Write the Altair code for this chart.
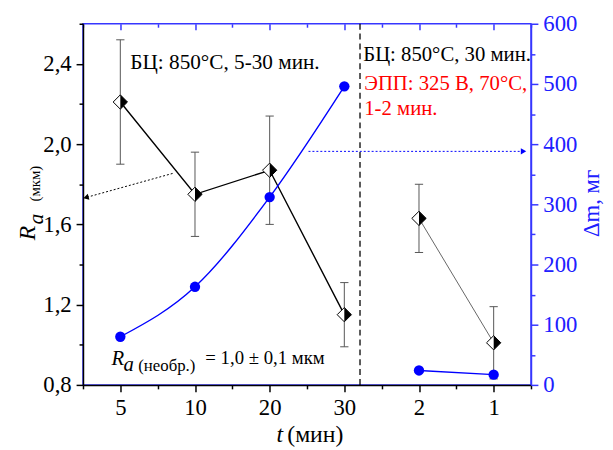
import json
import altair as alt
import pandas as pd

# ---------------- data ----------------
x_labels = ['5', '10', '20', '30', '2', '1']
x_pos = [0, 1, 2, 3, 4, 5]
series_group = ['БЦ', 'БЦ', 'БЦ', 'БЦ', 'ЭПП', 'ЭПП']
ra_values = [2.21, 1.75, 1.87, 1.15, 1.63, 1.01]
ra_errors = [0.31, 0.21, 0.27, 0.16, 0.17, 0.18]
dm_values = [80, 163, 312, 496, 24, 17]

divider_x = [3.21]
arrow_left_x = [0.70, -0.46]
arrow_left_y = [1.854, 1.734]
arrow_right_x = [2.52, 5.40]
arrow_right_y = [388, 388]

FONT = "'Liberation Serif', 'Times New Roman', 'DejaVu Serif', serif"
BLUE = "#0000ff"
AXBLUE = "#3636ff"
LBLUE = "#2020ff"

df = pd.DataFrame({
    "x": x_pos,
    "label": x_labels,
    "group": series_group,
    "ra": ra_values,
    "err": ra_errors,
    "dm": dm_values,
})
df["lo"] = df["ra"] - df["err"]
df["hi"] = df["ra"] + df["err"]

# ---------------- scales / axes ----------------
x_scale = alt.Scale(domain=[-0.5, 5.5], nice=False, zero=False)
y_scale = alt.Scale(domain=[0.8, 2.6], nice=False, zero=False)
y2_scale = alt.Scale(domain=[0, 600], nice=False, zero=False)

x_ticks = [i * 0.5 - 0.5 for i in range(13)]
ra_ticks = [round(0.8 + 0.2 * i, 1) for i in range(10)]
dm_ticks = [i * 50 for i in range(13)]

label_js = json.dumps(x_labels)
LBL = 23

x_axis = alt.Axis(
    values=x_ticks, orient="bottom", title=None, grid=False,
    labelExpr=f"(datum.value % 1 == 0 && datum.value >= 0) ? {label_js}[datum.value] : ''",
    tickSize={"condition": {"test": "datum.value % 1 == 0", "value": 7}, "value": 4},
    labelFont=FONT, labelFontSize=LBL, labelColor="black", labelPadding=5,
    domainColor="black", tickColor="black", domainWidth=1.5, tickWidth=1.5,
    labelFlush=False, labelOverlap=False,
)
x_top_axis = alt.Axis(
    values=x_ticks, orient="bottom", offset=-366, title=None, grid=False,
    labels=False, domain=False,
    tickSize={"condition": {"test": "datum.value % 1 == 0", "value": 6}, "value": 3.5},
    tickColor=AXBLUE, tickWidth=1.5,
)
y_axis = alt.Axis(
    values=ra_ticks, orient="left", title=None, grid=False,
    labelExpr="round(datum.value*10) % 4 == 0 ? replace(format(datum.value, '.1f'), '.', ',') : ''",
    tickSize={"condition": {"test": "round(datum.value*10) % 4 == 0", "value": 7}, "value": 4},
    labelFont=FONT, labelFontSize=LBL, labelColor="black", labelPadding=5,
    domainColor="black", tickColor="black", domainWidth=1.5, tickWidth=1.5,
    labelFlush=False, labelOverlap=False,
)
y2_axis = alt.Axis(
    values=dm_ticks, orient="right", title=None, grid=False,
    labelExpr="datum.value % 100 == 0 ? datum.label : ''",
    tickSize={"condition": {"test": "datum.value % 100 == 0", "value": 7}, "value": 4},
    labelFont=FONT, labelFontSize=LBL, labelColor=LBLUE, labelPadding=5,
    domainColor=AXBLUE, tickColor=AXBLUE, domainWidth=1.5, tickWidth=1.5,
    labelFlush=False, labelOverlap=False,
)

X = alt.X("x:Q", scale=x_scale, axis=x_axis)
Y = alt.Y("ra:Q", scale=y_scale, axis=y_axis)
X2 = alt.X("x:Q", scale=x_scale, axis=x_top_axis)
Y2 = alt.Y("dm:Q", scale=y2_scale, axis=y2_axis)

base = alt.Chart(df)

# ---------------- left (Ra) layer ----------------
line1 = base.transform_filter(alt.datum.group == 'БЦ').mark_line(
    color="black", strokeWidth=1.4).encode(x=X, y=Y)
line2 = base.transform_filter(alt.datum.group == 'ЭПП').mark_line(
    color="#555555", strokeWidth=0.9).encode(x=X, y=Y)
err_rule = base.mark_rule(color="#555555", strokeWidth=1).encode(
    x=X, y=alt.Y("lo:Q", scale=y_scale, axis=y_axis), y2="hi:Q")
cap_lo = base.mark_point(shape="stroke", size=70, color="#555555", strokeWidth=1, opacity=1).encode(
    x=X, y=alt.Y("lo:Q", scale=y_scale, axis=y_axis))
cap_hi = base.mark_point(shape="stroke", size=70, color="#555555", strokeWidth=1, opacity=1).encode(
    x=X, y=alt.Y("hi:Q", scale=y_scale, axis=y_axis))
diamond = base.mark_point(shape="diamond", size=210, filled=True, fill="white",
                          stroke="black", strokeWidth=1, opacity=1).encode(x=X, y=Y)
half = base.mark_point(shape="M0,-1L1,0L0,1Z", size=210, filled=True, color="black",
                       opacity=1).encode(x=X, y=Y)

divider = alt.Chart(pd.DataFrame({"x": divider_x})).mark_rule(
    color="black", strokeDash=[6, 4], strokeWidth=1.3).encode(x=alt.X("x:Q", scale=x_scale, axis=x_axis))

arr_l = pd.DataFrame({"x": arrow_left_x, "ra": arrow_left_y, "o": [0, 1]})
arrow_l_line = alt.Chart(arr_l).mark_line(color="black", strokeDash=[2, 2], strokeWidth=1).encode(
    x=X, y=Y, order="o:Q")
arrow_l_head = alt.Chart(arr_l.iloc[[1]]).mark_point(
    shape="triangle-left", size=40, filled=True, color="black", opacity=1, angle=345).encode(x=X, y=Y)


def txt(s, x, y, size=21, color="black", style="normal", angle=0, align="left", baseline="alphabetic"):
    return alt.Chart(pd.DataFrame({"t": [s]})).mark_text(
        font=FONT, fontSize=size, color=color, fontStyle=style, angle=angle,
        align=align, baseline=baseline,
    ).encode(text="t:N", x=alt.value(x), y=alt.value(y))


texts = [
    txt("БЦ: 850°C, 5-30 мин.", 48, 46, size=21.5),
    txt("БЦ: 850°C, 30 мин.", 284, 38),
    txt("ЭПП: 325 В, 70°C,", 285, 67, color="red"),
    txt("1-2 мин.", 285, 92, color="red"),
    txt("R", 29, 346, size=21, style="italic"),
    txt("a", 41, 352, size=21, style="italic"),
    txt("(необр.)", 56, 352, size=17),
    txt("= 1,0 ± 0,1 мкм", 124, 345, size=19),
    # axis titles
    txt("R", -49, 212, size=24, style="italic", angle=270, align="center"),
    txt("a", -41, 198, size=22, style="italic", angle=270, align="center"),
    txt("(мкм)", -44, 162, size=15, angle=270, align="center"),
    txt("Δm, мг", 523, 182, size=23, color=LBLUE, angle=270, align="center"),
    txt("t", 196, 424, size=24, style="italic"),
    txt("(мин)", 207, 424, size=24),
]

left = alt.layer(divider, err_rule, cap_lo, cap_hi, line1, line2, diamond, half,
                 arrow_l_line, arrow_l_head, *texts)

# ---------------- right (Δm) layer ----------------
bline1 = base.transform_filter(alt.datum.group == 'БЦ').mark_line(
    color=BLUE, strokeWidth=1.4, interpolate="monotone").encode(x=X2, y=Y2)
bline2 = base.transform_filter(alt.datum.group == 'ЭПП').mark_line(
    color=BLUE, strokeWidth=1.4).encode(x=X2, y=Y2)
bpts = base.mark_circle(size=110, color=BLUE, opacity=1).encode(x=X2, y=Y2)

arr_r = pd.DataFrame({"x": arrow_right_x, "dm": arrow_right_y, "o": [0, 1]})
arrow_r_line = alt.Chart(arr_r).mark_line(color=BLUE, strokeDash=[2, 2], strokeWidth=1).encode(
    x=X2, y=Y2, order="o:Q")
arrow_r_head = alt.Chart(arr_r.iloc[[1]]).mark_point(
    shape="triangle-right", size=40, filled=True, color=BLUE, opacity=1).encode(x=X2, y=Y2)

right = alt.layer(bline1, bline2, bpts, arrow_r_line, arrow_r_head)

chart = alt.layer(left, right).resolve_scale(x="independent", y="independent").properties(
    width=454, height=366,
    padding={"left": 76, "top": 13, "right": 75, "bottom": 63},
    autosize=alt.AutoSizeParams(type="none"),
).configure_view(stroke=AXBLUE, strokeWidth=1.5)

chart.save("out.html", embed_options={"renderer": "svg", "actions": False})
